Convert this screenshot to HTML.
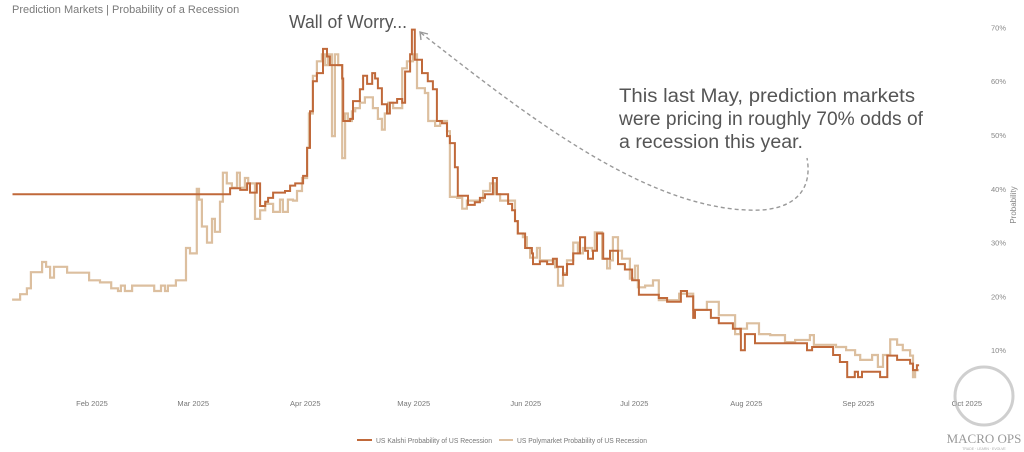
<!DOCTYPE html>
<html><head><meta charset="utf-8"><style>
html,body{margin:0;padding:0;background:#fff;}
svg{display:block;font-family:"Liberation Sans",sans-serif;}
</style></head><body>
<svg id="chart" width="1024" height="452" viewBox="0 0 1024 452">
<text x="12" y="13" font-size="11" fill="#7a7a7a">Prediction Markets | Probability of a Recession</text>
<g id="yaxis"></g>
<text transform="translate(1016,205) rotate(-90)" text-anchor="middle" font-size="8" fill="#888">Probability</text>
<g id="xaxis"></g>
<g id="series"></g>
<text x="289" y="28" font-size="18" fill="#555" textLength="118" lengthAdjust="spacingAndGlyphs">Wall of Worry...</text>
<path d="M421,33 C520,110 650,215 762,210 C800,207 812,185 807,158" fill="none" stroke="#999" stroke-width="1.4" stroke-dasharray="4,3"/>
<path d="M421,40 L420,32 L428,34" fill="none" stroke="#999" stroke-width="1.4"/>
<g font-size="19" fill="#555">
<text x="619" y="102" textLength="296" lengthAdjust="spacingAndGlyphs">This last May, prediction markets</text>
<text x="619" y="125" textLength="304" lengthAdjust="spacingAndGlyphs">were pricing in roughly 70% odds of</text>
<text x="619" y="148" textLength="184" lengthAdjust="spacingAndGlyphs">a recession this year.</text>
</g>
<g>
<line x1="357" y1="440" x2="372" y2="440" stroke="#c0693a" stroke-width="2"/>
<text x="376" y="443" font-size="7" fill="#777" textLength="116" lengthAdjust="spacingAndGlyphs">US Kalshi Probability of US Recession</text>
<line x1="499" y1="440" x2="513" y2="440" stroke="#dcbf9f" stroke-width="2"/>
<text x="517" y="443" font-size="7" fill="#777" textLength="130" lengthAdjust="spacingAndGlyphs">US Polymarket Probability of US Recession</text>
</g>
<g>
<circle cx="984" cy="396" r="29" fill="none" stroke="#bbb" stroke-width="3" opacity="0.7"/>
<text x="984" y="443" text-anchor="middle" font-family="Liberation Serif,serif" font-size="13" fill="#999">MACRO OPS</text>
<text x="984" y="450" text-anchor="middle" font-size="3.5" fill="#aaa">TRADE · LEARN · EVOLVE</text>
</g>
</svg>
<script>
const monthLabels=["Feb 2025","Mar 2025","Apr 2025","May 2025","Jun 2025","Jul 2025","Aug 2025","Sep 2025","Oct 2025"];
const monthDays=[31,59,90,120,151,181,212,243,273];
const yTicks=[10,20,30,40,50,60,70];
const endDay=259.8;
const kalshiDays=[9,66.7,69.2,72,73.9,74.7,76.6,77.5,78.9,79.7,81.1,84.4,85.8,87.2,89.4,90.5,91.3,92.1,93.2,94.9,96,96.8,100.2,100.5,102.4,103.2,105.1,106,107.1,108.5,109.3,110.1,111.2,112.6,113.4,115.4,116.8,117.6,119,119.5,120.3,122.3,123.9,125.3,126.4,127.8,129.2,130,131.4,132.2,135,136.9,138.3,139.7,141.9,143,146.1,147.2,148,148.8,150.8,152.7,153,154.9,156.9,158.5,159.6,161.3,162.4,164.1,166,167.4,168.2,169.6,170.7,172.4,174.3,176.5,178.4,180.4,182.3,187.8,190.1,193.9,195.6,197.3,197.8,202.2,204.4,208.3,210.5,211.6,214.4,228.8,230.2,236,237.9,239.9,242,242.9,244,249,251,253.7,257.3,258.1,259.2];
const kalshiValues=[39,39,40.1,39.8,41,39.3,41,36.8,37.6,38.3,39.3,39.6,40.6,41,42.4,47.6,54.4,60,61.5,66,64.6,63,60.5,52.6,53,56.3,58.5,61,59.5,61.5,60.5,58.7,55.7,54,56,56.7,56,61.8,65,69.6,64,61.5,60,58.5,52.6,52.2,49.8,48.5,44,38.7,37,37.5,38.3,39,42,39,37.2,36,34,31.7,29,28,26,26.5,26,27,25.5,24,26,28,31,28.5,27,28.5,31.7,27,28.5,26,25,23,20.3,19.7,19,21,20,16,17.5,16,15,14,10,13,11.3,10,10.6,9.1,7.8,5,6,5,6,5,9,8.2,7.5,6.3,7.2];
const polyDays=[8.9,11.1,13,14.1,17.2,18.3,19.4,20.5,24.1,30.2,33.2,36.3,38.2,39,40.1,42.1,48.2,50.1,51.2,52,54.2,57,58.1,60,60.6,61.4,62.8,64.2,65,66.4,67.2,68.3,69.7,71.1,71.9,73.3,74.2,76.1,77.5,78.9,81.1,83,83.8,85.2,86.6,87.7,89.1,90.5,91,92.1,93.2,94.6,95.5,96.3,97.4,98.2,99.1,100.2,101,101.8,102.9,103.8,105.1,106.5,108.7,110.1,111.2,112,112.9,114.3,116.8,118.1,119.8,120.9,123.1,124,125.9,127.3,129.2,130,132,133.4,134.7,139.2,141.1,142.5,143.9,148,148.8,150.2,151.3,152.2,154.1,154.9,159.1,159.9,161.3,162.4,164.1,165.4,166.8,169.3,170.1,172.1,173.5,174.3,175.1,176.5,177.6,179.8,181.2,182,184,186.2,187.8,193.4,197.3,201.1,204.4,208.9,210.3,212.2,215.5,218.6,222.7,225.5,229.6,230.7,236.8,239.6,242.1,243.5,246.8,248.4,249.8,251.8,253.7,255.3,257.3,258.1,258.7];
const polyValues=[19.4,20.4,21.5,24.5,26.4,25.5,23.5,25.5,24.4,23,22.6,21.5,21,22,21,22,21,22,21,22,23,29,28,40,38,33,30,34.4,32,37.6,43,41,40.2,43,40.2,42,41,34.4,36,37.2,35.7,38,35.7,38,37.8,39.6,42,47.6,54,61,63.7,65,63,65,49.8,65,63,45.7,54,52.6,54.4,55,56,57,55,53,51,54,56,55,62.4,63.7,65,58.7,57.8,52.6,51.7,52.6,50.7,38.5,38.3,36.3,37.8,39.6,41,39,37.8,34,31.7,31,29,27.2,29,26.7,25.4,22,24.3,26.7,30,28,29,28.5,31.9,27,25.2,26.7,31,28.5,27,23.3,25.7,21.7,22,23,19.3,20.5,17.5,19,16.5,13,14,15,13,12.8,11.5,11.9,12.8,11,10.6,10,9.1,8.2,9.1,6.9,9.1,12,11,10,9,5,6.3];

const NS="http://www.w3.org/2000/svg";
function xScale(d){return 92+(d-31)*3.615;}
function yScale(v){return 404-5.38*v;}
const yg=document.getElementById('yaxis');
yTicks.forEach(function(t){
  const el=document.createElementNS(NS,'text');
  el.setAttribute('x',1006);el.setAttribute('y',yScale(t)+3);
  el.setAttribute('text-anchor','end');el.setAttribute('font-size','7.5');el.setAttribute('fill','#888');
  el.textContent=t+'%';
  
  
  yg.appendChild(el);
});
const xg=document.getElementById('xaxis');
monthLabels.forEach(function(m,i){
  const el=document.createElementNS(NS,'text');
  el.setAttribute('x',xScale(monthDays[i]));el.setAttribute('y',406);
  el.setAttribute('text-anchor','middle');el.setAttribute('font-size','7.5');el.setAttribute('fill','#777');
  el.textContent=m;
  
  
  xg.appendChild(el);
});
function stepPath(days,vals){
  let d='M'+xScale(days[0]).toFixed(1)+','+yScale(vals[0]).toFixed(1);
  for(let i=1;i<days.length;i++){
    d+=' H'+xScale(days[i]).toFixed(1)+' V'+yScale(vals[i]).toFixed(1);
  }
  d+=' H'+xScale(endDay).toFixed(1);
  return d;
}
const sg=document.getElementById('series');
const p1=document.createElementNS(NS,'path');
p1.setAttribute('d',stepPath(polyDays,polyValues));
p1.setAttribute('fill','none');p1.setAttribute('stroke','#dcbf9f');p1.setAttribute('stroke-width','2.2');


sg.appendChild(p1);
const p2=document.createElementNS(NS,'path');
p2.setAttribute('d',stepPath(kalshiDays,kalshiValues));
p2.setAttribute('fill','none');p2.setAttribute('stroke','#c0693a');p2.setAttribute('stroke-width','2');


sg.appendChild(p2);
</script>
</body></html>
